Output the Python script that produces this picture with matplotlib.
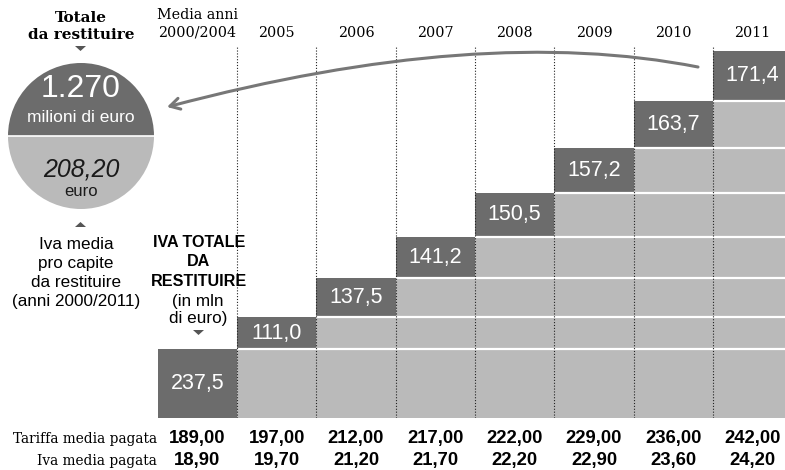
"""
IVA da restituire - cumulative staircase chart
"""
import matplotlib
matplotlib.use("Agg")
import matplotlib.pyplot as plt
import numpy as np
from matplotlib.patches import Wedge, Polygon, FancyArrowPatch
from matplotlib.path import Path
from matplotlib.transforms import blended_transform_factory

# --- data ---
years = ['Media anni\n2000/2004', '2005', '2006', '2007', '2008', '2009', '2010', '2011']
iva_totale = [237.5, 111.0, 137.5, 141.2, 150.5, 157.2, 163.7, 171.4]
tariffa_media = [189.00, 197.00, 212.00, 217.00, 222.00, 229.00, 236.00, 242.00]
iva_media = [18.90, 19.70, 21.20, 21.70, 22.20, 22.90, 23.60, 24.20]
totale_mln = '1.270'
pro_capite = '208,20'

DARK = '#6c6c6c'
LIGHT = '#bababa'
SANS = ['Liberation Sans', 'DejaVu Sans']
SERIF = ['DejaVu Serif']


def it(v, nd):
    return f"{v:.{nd}f}".replace('.', ',')


fig = plt.figure(figsize=(7.85, 4.70), dpi=100)
W, H = 785, 470

# main axes: bars (pixel layout: columns start at x~158, base at y~418)
ax = fig.add_axes([157.7 / W, (H - 418) / H, (W - 157.7) / W, 378 / H])
ax.set_xlim(-0.5, -0.5 + (W - 157.7) / 79.33)
ax.set_ylim(0, 378 / 0.289)
ax.axis('off')

x = np.arange(len(iva_totale))
cum = np.cumsum(iva_totale)
bottoms = cum - np.array(iva_totale)

# light gray: everything that was there before, dark: this year's share
ax.bar(x, bottoms, width=1.0, color=LIGHT, linewidth=0, zorder=1)
ax.bar(x, iva_totale, bottom=bottoms, width=1.0, color=DARK, linewidth=0, zorder=1)
# white separators between yearly layers
ax.hlines(cum[:-1], x[:-1] + 0.5, x[-1] + 0.5, color='white', lw=1.6, zorder=2)
# dotted column separators
ax.vlines(x[:-1] + 0.5, 0, 1284, color='#222222', lw=0.8,
          linestyles=(0, (1, 1.6)), zorder=3)

for xi, b, v in zip(x, bottoms, iva_totale):
    ax.text(xi, b + v / 2, it(v, 1), color='white', fontsize=15.5,
            family=SANS, ha='center', va='center', zorder=4)

# overlay axes in pixel coordinates
ov = fig.add_axes([0, 0, 1, 1], zorder=5)
ov.set_xlim(0, W)
ov.set_ylim(H, 0)
ov.axis('off')
ov.patch.set_alpha(0)

colx = blended_transform_factory(ax.transData, ov.transData)

# year headers
for xi, lab in zip(x, years):
    ov.text(xi, 37, lab, transform=colx, ha='center', va='baseline',
            fontsize=10.3, family=SERIF, linespacing=1.4)

# bottom table
ov.text(157, 443, 'Tariffa media pagata', ha='right', va='baseline',
        fontsize=9.9, family=SERIF)
ov.text(157, 465, 'Iva media pagata', ha='right', va='baseline',
        fontsize=9.9, family=SERIF)
for xi, t, iv in zip(x, tariffa_media, iva_media):
    ov.text(xi, 443, it(t, 2), transform=colx, ha='center', va='baseline',
            fontsize=13.3, fontweight='bold', family=SANS)
    ov.text(xi, 465, it(iv, 2), transform=colx, ha='center', va='baseline',
            fontsize=13.3, fontweight='bold', family=SANS)

# circle with totals
cx, cy, r = 81, 136, 73
ov.add_patch(Wedge((cx, cy), r, 180, 360, color=DARK, lw=0))
ov.add_patch(Wedge((cx, cy), r, 0, 180, color=LIGHT, lw=0))
ov.plot([cx - r, cx + r], [cy, cy], color='white', lw=1.2)
ov.text(cx, 89, totale_mln, ha='center', va='center', color='white',
        fontsize=23, family=SANS)
ov.text(cx, 118, 'milioni di euro', ha='center', va='center', color='white',
        fontsize=12.5, family=SANS)
ov.text(cx, 169, pro_capite, ha='center', va='center', color='#1a1a1a',
        fontsize=18, style='italic', family=SANS)
ov.text(cx, 192, 'euro', ha='center', va='center', color='#1a1a1a',
        fontsize=12, family=SANS)

ov.text(cx, 22, 'Totale', ha='center', va='baseline', fontsize=11,
        fontweight='bold', family=SERIF)
ov.text(cx, 39, 'da restituire', ha='center', va='baseline', fontsize=11,
        fontweight='bold', family=SERIF)

# little pointer triangles
ov.add_patch(Polygon([[75, 46], [86, 46], [80.5, 51]], closed=True, color='#555555', lw=0))
ov.add_patch(Polygon([[75, 227], [86, 227], [80.5, 222]], closed=True, color='#555555', lw=0))
ov.add_patch(Polygon([[193, 330], [204, 330], [198.5, 335]], closed=True, color='#555555', lw=0))

ov.text(76, 306, 'Iva media\npro capite\nda restituire\n(anni 2000/2011)',
        ha='center', va='baseline', fontsize=12.3, family=SANS, linespacing=1.33)
ov.text(199, 286, 'IVA TOTALE\nDA\nRESTITUIRE', ha='center', va='baseline',
        fontsize=11.6, fontweight='bold', family=SANS, linespacing=1.38)
ov.text(198, 323, '(in mln\ndi euro)', ha='center', va='baseline',
        fontsize=12.3, family=SANS, linespacing=1.2)

# curved arrow from 2011 back to the total
arc = Path([(698, 67), (480, 24), (167, 107)], [Path.MOVETO, Path.CURVE3, Path.CURVE3])
ov.add_patch(FancyArrowPatch(path=arc, arrowstyle='->,head_length=7,head_width=4',
                             color='#777777', lw=2.2))

fig.savefig('out.png', dpi=100)
